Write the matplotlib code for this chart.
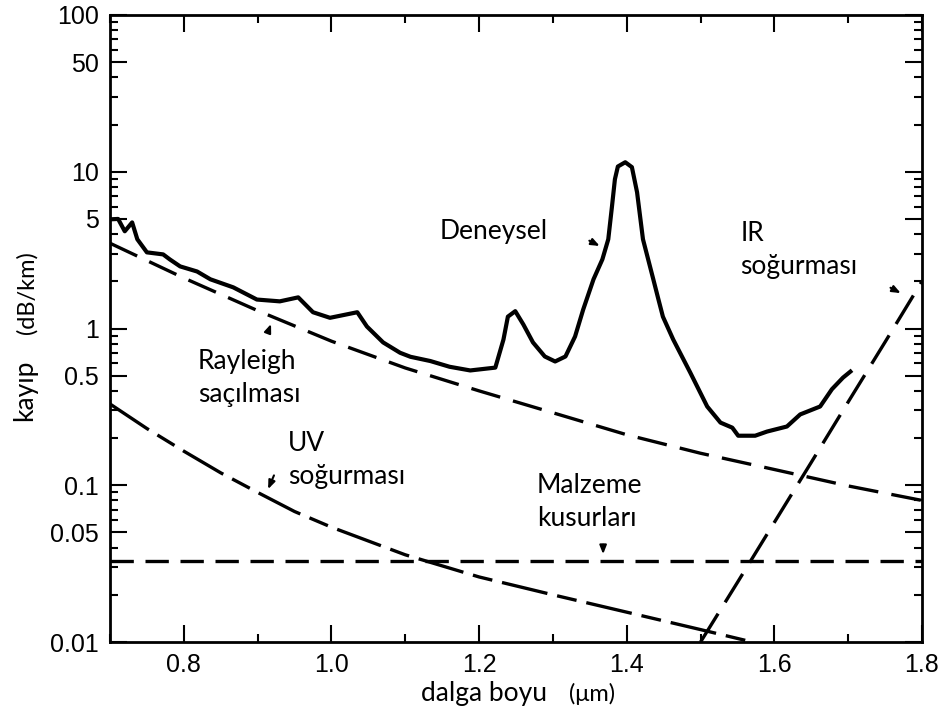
import matplotlib
matplotlib.use("Agg")
import matplotlib.pyplot as plt
from matplotlib.ticker import LogLocator, FixedLocator, NullFormatter, MultipleLocator
import numpy as np

# measured loss (dB/km) vs wavelength (um)
exp_x = [0.700, 0.711, 0.720, 0.730, 0.737, 0.750, 0.772, 0.781, 0.795, 0.818, 0.836, 0.867,
         0.899, 0.930, 0.955, 0.975, 0.998, 1.035, 1.048, 1.070, 1.093, 1.107, 1.134, 1.160,
         1.188, 1.222, 1.233, 1.239, 1.249, 1.260, 1.273, 1.289, 1.303, 1.317, 1.330, 1.341,
         1.355, 1.367, 1.375, 1.380, 1.384, 1.388, 1.398, 1.407, 1.414, 1.422, 1.436, 1.443,
         1.449, 1.463, 1.486, 1.509, 1.527, 1.543, 1.551, 1.574, 1.590, 1.617, 1.635, 1.662,
         1.678, 1.693, 1.703]
exp_y = [4.97, 5.0, 4.17, 4.75, 3.71, 3.06, 2.97, 2.76, 2.49, 2.31, 2.06, 1.83,
         1.53, 1.49, 1.58, 1.27, 1.17, 1.27, 1.03, 0.815, 0.70, 0.66, 0.62, 0.57,
         0.54, 0.563, 0.85, 1.19, 1.29, 1.06, 0.815, 0.663, 0.616, 0.663, 0.889, 1.32,
         2.06, 2.76, 3.71, 6.0, 8.96, 10.8, 11.5, 10.7, 7.4, 3.71, 2.06, 1.53,
         1.19, 0.85, 0.524, 0.318, 0.251, 0.233, 0.207, 0.207, 0.22, 0.237, 0.283, 0.318,
         0.41, 0.486, 0.531]

ray_x = [0.7, 0.8, 0.9, 1.0, 1.1, 1.2, 1.3, 1.4, 1.5, 1.6, 1.7, 1.8]
ray_y = [3.5, 2.1, 1.3, 0.83, 0.56, 0.40, 0.29, 0.21, 0.16, 0.126, 0.099, 0.08]

uv_x = [0.70, 0.75, 0.80, 0.85, 0.90, 0.95, 1.00, 1.10, 1.20, 1.30, 1.40, 1.50, 1.57]
uv_y = [0.33, 0.23, 0.165, 0.12, 0.09, 0.068, 0.054, 0.036, 0.026, 0.020, 0.0155, 0.012, 0.010]

mat_x = [0.7, 1.8]
mat_y = [0.033, 0.033]

ir_x = [1.50, 1.55, 1.60, 1.65, 1.70, 1.75, 1.80]
ir_y = [0.01, 0.024, 0.058, 0.14, 0.34, 0.82, 2.0]

y_ticks = [0.01, 0.05, 0.1, 0.5, 1, 5, 10, 50, 100]
y_labels = ["0.01", "0.05", "0.1", "0.5", "1", "5", "10", "50", "100"]
x_ticks = [0.8, 1.0, 1.2, 1.4, 1.6, 1.8]

tfont = "Lato"
fig = plt.figure(figsize=(9.42, 7.18), dpi=100)
ax = fig.add_axes([110/942, 1-642/718, 812/942, 627/718])

ax.plot(exp_x, exp_y, color="black", lw=3.0, solid_joinstyle="round")
ax.plot(ray_x, ray_y, color="black", lw=2.4, dashes=(9, 4))
ax.plot(uv_x, uv_y, color="black", lw=2.4, dashes=(14, 3, 6, 3))
ax.plot(mat_x, mat_y, color="black", lw=2.4, dashes=(7, 3.5))
ax.plot(ir_x, ir_y, color="black", lw=2.4, dashes=(10, 4))

ax.set_yscale("log")
ax.set_xlim(0.7, 1.8)
ax.set_ylim(0.01, 100)
ax.yaxis.set_major_locator(FixedLocator(y_ticks))
ax.set_yticklabels(y_labels)
ax.yaxis.set_minor_locator(LogLocator(base=10, subs=[2, 3, 4, 6, 7, 8, 9]))
ax.yaxis.set_minor_formatter(NullFormatter())
ax.set_xticks(x_ticks)
ax.set_xticklabels(["0.8", "1.0", "1.2", "1.4", "1.6", "1.8"])
ax.xaxis.set_minor_locator(MultipleLocator(0.1))

ax.tick_params(which="both", direction="in", top=True, right=True, width=1.5,
               labelsize=18, pad=8)
ax.tick_params(which="major", length=12)
ax.tick_params(which="minor", length=6)
for s in ax.spines.values():
    s.set_linewidth(2)
for lab in ax.get_xticklabels() + ax.get_yticklabels():
    lab.set_family("Liberation Sans")

# axis labels
fig.text(25/942, 1-390/718, "kayıp", rotation=90, ha="center", va="center",
         fontsize=19, family=tfont)
fig.text(27/942, 1-293/718, "(dB/km)", rotation=90, ha="center", va="center",
         fontsize=17, family=tfont)
fig.text(484/942, 1-694/718, "dalga boyu", ha="center", va="center",
         fontsize=19, family=tfont)
fig.text(592/942, 1-694/718, "(μm)", ha="center", va="center",
         fontsize=17, family=tfont)

# curve labels
kw = dict(fontsize=19, family=tfont, ha="left", va="center", linespacing=1.4)
ax.text(1.147, 4.17, "Deneysel", **kw)
ax.text(0.819, 0.486, "Rayleigh\nsaçılması", **kw)
ax.text(0.941, 0.1456, "UV\nsoğurması", **kw)
ax.text(1.2786, 0.0785, "Malzeme\nkusurları", **kw)
ax.text(1.5537, 3.15, "IR\nsoğurması", **kw)

arr = dict(arrowstyle="-|>,head_length=0.5,head_width=0.2", color="black", lw=1.5)
ax.annotate("", xy=(1.3667, 3.3), xytext=(1.346, 3.7), arrowprops=arr)
ax.annotate("", xy=(0.9195, 1.11), xytext=(0.9127, 0.916), arrowprops=arr)
ax.annotate("", xy=(0.9127, 0.091), xytext=(0.9236, 0.12), arrowprops=arr)
ax.annotate("", xy=(1.368, 0.0349), xytext=(1.368, 0.0435), arrowprops=arr)
ax.annotate("", xy=(1.7745, 1.65), xytext=(1.754, 1.855), arrowprops=arr)

fig.savefig("out.png", dpi=100)
